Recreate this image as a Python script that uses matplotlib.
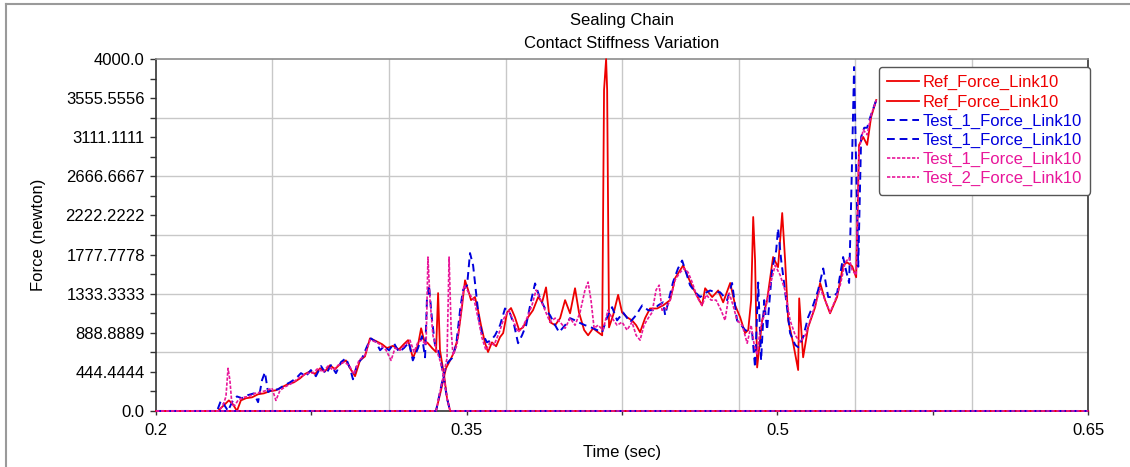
import numpy as np
import matplotlib.pyplot as plt
from matplotlib.lines import Line2D

plt.rcParams['font.family'] = ['Liberation Sans', 'DejaVu Sans']

# ---- contact force traces (time in sec, force in newton) ----
# link A carries the load first, link B takes over around t = 0.336
ref_a_t = [0.2000, 0.2299, 0.2328, 0.2352, 0.2372, 0.2391, 0.2410, 0.2435, 0.2464, 0.2493,
           0.2521, 0.2550, 0.2579, 0.2608, 0.2637, 0.2666, 0.2695, 0.2719, 0.2744, 0.2768,
           0.2792, 0.2816, 0.2840, 0.2864, 0.2888, 0.2917, 0.2942, 0.2961, 0.2985, 0.3009,
           0.3033, 0.3062, 0.3091, 0.3115, 0.3144, 0.3173, 0.3197, 0.3217, 0.3241, 0.3265,
           0.3280, 0.3294, 0.3313, 0.3333, 0.3352, 0.3362, 0.3371, 0.3391, 0.3405, 0.3420,
           0.6500]
ref_a_f = [0, 0, 65, 120, 75, 0, 120, 145, 155, 190,
           200, 225, 235, 270, 305, 325, 370, 420, 450, 420,
           485, 450, 520, 475, 530, 575, 465, 395, 575, 620,
           825, 795, 760, 715, 740, 700, 760, 805, 600, 750,
           940, 805, 770, 715, 670, 1340, 690, 405, 145, 0,
           0]

ref_b_t = [0.2000, 0.3352, 0.3376, 0.3400, 0.3420, 0.3439, 0.3458, 0.3478, 0.3492, 0.3507,
           0.3521, 0.3540, 0.3555, 0.3569, 0.3589, 0.3603, 0.3622, 0.3642, 0.3661, 0.3676,
           0.3695, 0.3714, 0.3733, 0.3753, 0.3772, 0.3796, 0.3820, 0.3845, 0.3864, 0.3883,
           0.3902, 0.3927, 0.3951, 0.3975, 0.3999, 0.4023, 0.4042, 0.4067, 0.4086, 0.4110,
           0.4134, 0.4154, 0.4163, 0.4173, 0.4178, 0.4187, 0.4207, 0.4231, 0.4250, 0.4274,
           0.4298, 0.4318, 0.4337, 0.4361, 0.4385, 0.4419, 0.4448, 0.4482, 0.4506, 0.4530,
           0.4545, 0.4569, 0.4593, 0.4636, 0.4651, 0.4685, 0.4714, 0.4738, 0.4772, 0.4796,
           0.4820, 0.4844, 0.4859, 0.4873, 0.4883, 0.4892, 0.4902, 0.4916, 0.4926, 0.4950,
           0.4979, 0.5003, 0.5023, 0.5037, 0.5052, 0.5076, 0.5100, 0.5105, 0.5124, 0.5148,
           0.5182, 0.5206, 0.5230, 0.5254, 0.5288, 0.5317, 0.5336, 0.5361, 0.5380, 0.5394,
           0.5414, 0.5433, 0.5452, 0.5477]
ref_b_f = [0, 0, 235, 485, 575, 670, 840, 1200, 1485, 1375,
           1260, 1295, 1145, 975, 770, 670, 780, 735, 840, 885,
           1120, 1170, 1065, 920, 950, 1065, 1145, 1295, 1235, 1405,
           1010, 975, 1055, 1260, 1110, 1395, 1120, 920, 860, 940,
           895, 860, 3650, 4000, 3650, 950, 1090, 1320, 1120, 1065,
           1030, 975, 895, 1055, 1165, 1165, 1200, 1260, 1510, 1600,
           1655, 1520, 1395, 1200, 1395, 1295, 1370, 1235, 1455, 1200,
           1065, 885, 920, 1260, 2205, 1715, 495, 805, 1030, 1260,
           1750, 1635, 2250, 1715, 1030, 770, 465, 1280, 610, 950,
           1180, 1455, 1260, 1110, 1295, 1655, 1690, 1645, 1520, 3025,
           3115, 3025, 3340, 3535]

test1_a_t = [0.2000, 0.2295, 0.2314, 0.2328, 0.2348, 0.2367, 0.2391, 0.2415, 0.2444, 0.2473,
             0.2493, 0.2512, 0.2526, 0.2541, 0.2560, 0.2589, 0.2618, 0.2647, 0.2676, 0.2700,
             0.2724, 0.2748, 0.2772, 0.2797, 0.2821, 0.2845, 0.2869, 0.2893, 0.2917, 0.2937,
             0.2951, 0.2971, 0.2995, 0.3019, 0.3038, 0.3062, 0.3082, 0.3101, 0.3125, 0.3149,
             0.3173, 0.3197, 0.3221, 0.3240, 0.3265, 0.3284, 0.3299, 0.3308, 0.3318, 0.3333,
             0.3347, 0.3362, 0.3376, 0.3391, 0.3405, 0.3420, 0.6500]
test1_a_f = [0, 0, 120, 75, 0, 100, 165, 145, 180, 200,
             100, 350, 440, 215, 240, 245, 290, 325, 370, 430,
             395, 465, 395, 510, 420, 520, 430, 555, 600, 485,
             360, 530, 600, 735, 825, 785, 690, 735, 690, 770,
             670, 715, 780, 575, 715, 850, 610, 1260, 1430, 1030,
             750, 690, 555, 350, 145, 0, 0]

test1_b_t = [0.2000, 0.3352, 0.3371, 0.3391, 0.3410, 0.3429, 0.3449, 0.3468, 0.3482, 0.3502,
             0.3516, 0.3531, 0.3545, 0.3560, 0.3574, 0.3598, 0.3618, 0.3637, 0.3661, 0.3685,
             0.3709, 0.3729, 0.3748, 0.3767, 0.3787, 0.3811, 0.3830, 0.3854, 0.3878, 0.3902,
             0.3927, 0.3946, 0.3975, 0.3999, 0.4023, 0.4047, 0.4071, 0.4096, 0.4129, 0.4154,
             0.4178, 0.4202, 0.4226, 0.4255, 0.4289, 0.4318, 0.4347, 0.4376, 0.4400, 0.4424,
             0.4448, 0.4458, 0.4477, 0.4496, 0.4520, 0.4540, 0.4559, 0.4578, 0.4603, 0.4627,
             0.4651, 0.4675, 0.4699, 0.4723, 0.4757, 0.4781, 0.4805, 0.4825, 0.4844, 0.4878,
             0.4892, 0.4907, 0.4921, 0.4936, 0.4950, 0.4974, 0.4994, 0.5003, 0.5018, 0.5032,
             0.5061, 0.5086, 0.5100, 0.5124, 0.5148, 0.5172, 0.5196, 0.5221, 0.5245, 0.5264,
             0.5288, 0.5317, 0.5331, 0.5346, 0.5356, 0.5370, 0.5390, 0.5404, 0.5419, 0.5433,
             0.5448, 0.5477]
test1_b_f = [0, 0, 215, 440, 555, 600, 750, 1145, 1375, 1430,
             1795, 1655, 1350, 1030, 885, 780, 805, 860, 975, 1165,
             1110, 975, 770, 860, 975, 1255, 1450, 1280, 1165, 1090,
             975, 895, 975, 1055, 1030, 1000, 975, 955, 920, 895,
             1065, 1180, 1030, 1120, 1010, 1090, 1200, 1145, 1145, 1200,
             1235, 1090, 1280, 1465, 1620, 1710, 1575, 1430, 1350, 1295,
             1340, 1370, 1350, 1350, 1260, 1455, 1030, 975, 920, 885,
             495, 1460, 575, 1260, 920, 1600, 1825, 2075, 1715, 1455,
             885, 750, 725, 840, 1065, 1200, 1370, 1620, 1295, 1295,
             1340, 1750, 1600, 1455, 2400, 3910, 1640, 3115, 3220, 3220,
             3340, 3535]

test2_a_t = [0.2000, 0.2304, 0.2324, 0.2338, 0.2348, 0.2357, 0.2367, 0.2381, 0.2396, 0.2420,
             0.2449, 0.2478, 0.2507, 0.2536, 0.2560, 0.2579, 0.2599, 0.2628, 0.2657, 0.2686,
             0.2710, 0.2734, 0.2758, 0.2782, 0.2806, 0.2830, 0.2855, 0.2879, 0.2908, 0.2932,
             0.2956, 0.2980, 0.3009, 0.3033, 0.3062, 0.3086, 0.3111, 0.3135, 0.3154, 0.3178,
             0.3202, 0.3226, 0.3246, 0.3265, 0.3284, 0.3304, 0.3313, 0.3323, 0.3337, 0.3352,
             0.3371, 0.3391, 0.3405, 0.3420, 0.6500]
test2_a_f = [0, 0, 65, 165, 485, 350, 65, 65, 120, 155,
             165, 200, 215, 235, 260, 120, 235, 280, 315, 370,
             405, 430, 430, 485, 440, 510, 465, 520, 555, 520,
             420, 575, 635, 805, 785, 750, 690, 575, 715, 690,
             750, 805, 670, 785, 805, 750, 1750, 1260, 860, 715,
             575, 375, 145, 0, 0]

test2_b_t = [0.2000, 0.3352, 0.3371, 0.3391, 0.3405, 0.3415, 0.3425, 0.3434, 0.3453, 0.3473,
             0.3487, 0.3502, 0.3516, 0.3536, 0.3555, 0.3574, 0.3593, 0.3613, 0.3632, 0.3656,
             0.3680, 0.3704, 0.3724, 0.3748, 0.3767, 0.3791, 0.3815, 0.3835, 0.3854, 0.3878,
             0.3902, 0.3927, 0.3951, 0.3975, 0.3999, 0.4023, 0.4047, 0.4071, 0.4086, 0.4100,
             0.4115, 0.4134, 0.4158, 0.4182, 0.4202, 0.4226, 0.4250, 0.4274, 0.4298, 0.4318,
             0.4337, 0.4356, 0.4376, 0.4395, 0.4414, 0.4429, 0.4443, 0.4463, 0.4482, 0.4506,
             0.4530, 0.4550, 0.4569, 0.4588, 0.4612, 0.4636, 0.4656, 0.4680, 0.4704, 0.4728,
             0.4747, 0.4767, 0.4786, 0.4805, 0.4830, 0.4854, 0.4873, 0.4888, 0.4902, 0.4916,
             0.4941, 0.4965, 0.4989, 0.5013, 0.5037, 0.5061, 0.5086, 0.5110, 0.5134, 0.5158,
             0.5182, 0.5206, 0.5230, 0.5254, 0.5279, 0.5303, 0.5327, 0.5346, 0.5361, 0.5380,
             0.5394, 0.5414, 0.5433, 0.5452, 0.5477]
test2_b_f = [0, 0, 215, 440, 600, 1750, 920, 635, 750, 1145,
             1430, 1375, 1320, 1260, 1055, 830, 690, 780, 750, 885,
             1055, 1145, 1030, 895, 940, 1055, 1200, 1375, 1280, 1145,
             1010, 1055, 1010, 940, 1055, 975, 1120, 1375, 1465, 1260,
             940, 975, 920, 1145, 1055, 975, 1010, 920, 1010, 860,
             805, 975, 1055, 1120, 1375, 1430, 1145, 1165, 1260, 1490,
             1575, 1620, 1575, 1465, 1295, 1200, 1320, 1260, 1260, 1145,
             1030, 1340, 1200, 1030, 975, 770, 975, 750, 635, 920,
             1145, 1430, 1655, 1545, 1370, 1030, 860, 780, 860, 1030,
             1200, 1395, 1260, 1120, 1260, 1430, 1690, 1740, 1600, 1545,
             2970, 3195, 3140, 3365, 3535]

labels = ['Ref_Force_Link10', 'Ref_Force_Link10',
          'Test_1_Force_Link10', 'Test_1_Force_Link10',
          'Test_1_Force_Link10', 'Test_2_Force_Link10']

x_ticks = [0.2, 0.35, 0.5, 0.65]
x_ticklabels = ['0.2', '0.35', '0.5', '0.65']
y_ticklabels = ['0.0', '444.4444', '888.8889', '1333.3333', '1777.7778',
                '2222.2222', '2666.6667', '3111.1111', '3555.5556', '4000.0']

RED = '#ee0000'
BLUE = '#0000dd'
PINK = '#e8179a'

fig = plt.figure(figsize=(11.3, 4.67), dpi=100)
ax = fig.add_axes([0.138, 0.12, 0.825, 0.7534])

# grid lines are on their own spacing, independent of the ticks
for gx in np.linspace(0.2, 0.65, 9)[1:-1]:
    ax.axvline(gx, color='#c8c8c8', lw=1.0, zorder=0)
for gy in np.linspace(0, 4000, 7)[1:-1]:
    ax.axhline(gy, color='#c8c8c8', lw=1.0, zorder=0)

series = [
    (ref_a_t, ref_a_f, RED, '-', 1.3),
    (ref_b_t, ref_b_f, RED, '-', 1.3),
    (test1_a_t, test1_a_f, BLUE, (0, (4, 2.5)), 1.4),
    (test1_b_t, test1_b_f, BLUE, (0, (4, 2.5)), 1.4),
    (test2_a_t, test2_a_f, PINK, (0, (2, 1)), 1.2),
    (test2_b_t, test2_b_f, PINK, (0, (2, 1)), 1.2),
]
handles = []
for (t, f, c, ls, lw), lab in zip(series, labels):
    h, = ax.plot(t, f, color=c, linestyle=ls, lw=lw, label=lab, clip_on=False, zorder=3)
    handles.append(h)

ax.set_xlim(0.2, 0.65)
ax.set_ylim(0, 4000)
ax.set_xticks(x_ticks)
ax.set_xticklabels(x_ticklabels)
ax.set_xticks([0.275, 0.425, 0.575], minor=True)
ax.set_yticks(np.linspace(0, 4000, 10))
ax.set_yticklabels(y_ticklabels)
ax.set_yticks(np.linspace(0, 4000, 19), minor=True)
ax.tick_params(axis='both', which='both', direction='out', length=4, width=1,
               color='#333333', labelsize=12, pad=4)
ax.tick_params(axis='x', which='both', length=3, pad=6)

for side in ['left', 'bottom', 'right']:
    ax.spines[side].set_color('#333333')
    ax.spines[side].set_linewidth(1.2)
ax.spines['top'].set_color('#8c8c8c')
ax.spines['top'].set_linewidth(1.2)

ax.set_xlabel('Time (sec)', fontsize=12, labelpad=5)
ax.set_ylabel('Force (newton)', fontsize=12, labelpad=14)

fig.text(0.5505, 1 - 20 / 467, 'Sealing Chain', ha='center', va='center', fontsize=12)
fig.text(0.5505, 1 - 44 / 467, 'Contact Stiffness Variation', ha='center', va='center', fontsize=12)

leg = ax.legend(handles=handles, loc='upper right', bbox_to_anchor=(1090 / 1130, 1 - 67 / 467),
                bbox_transform=fig.transFigure, borderaxespad=0, fontsize=12,
                handlelength=1.9, handletextpad=0.2, labelspacing=0.24, borderpad=0.5,
                fancybox=True, framealpha=1, edgecolor='#555555')
leg.get_frame().set_linewidth(1.0)
for txt, h in zip(leg.get_texts(), handles):
    txt.set_color(h.get_color())

# outer frame of the plot window
fig.add_artist(Line2D([6 / 1130, 6 / 1130], [0, 1 - 4 / 467], color='#9a9a9a', lw=1.5,
                      transform=fig.transFigure))
fig.add_artist(Line2D([6 / 1130, 1], [1 - 4 / 467, 1 - 4 / 467], color='#9a9a9a', lw=1.5,
                      transform=fig.transFigure))

fig.savefig('out.png', dpi=100)
